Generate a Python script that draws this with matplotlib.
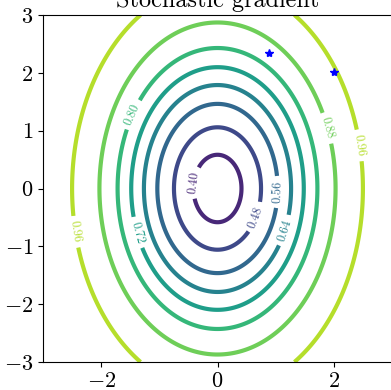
import numpy as np
import matplotlib
matplotlib.use("Agg")
import matplotlib.pyplot as plt

plt.rcParams["font.family"] = "cmr10"
plt.rcParams["mathtext.fontset"] = "cm"
plt.rcParams["axes.formatter.use_mathtext"] = True

# contour levels (labels) and the matching value of x^2 + y^2/2
level_values = [0.40, 0.48, 0.56, 0.64, 0.72, 0.80, 0.88, 0.96]
level_q = [0.17, 0.56, 1.07, 1.60, 2.20, 2.95, 4.12, 6.25]

# where the inline labels sit
label_pos = [(-0.40, 0.10), (0.69, -0.51), (1.03, -0.06), (1.14, -0.72),
             (-1.41, -0.77), (-1.53, 1.31), (1.91, 1.05), (2.47, 0.75), (-2.45, -0.75)]

# the stochastic gradient iterates
iter_x = [0.88, 2.0]
iter_y = [2.34, 2.02]

xs = np.linspace(-3, 3, 500)
ys = np.linspace(-3, 3, 500)
X, Y = np.meshgrid(xs, ys)
Q = X ** 2 + Y ** 2 / 2

cmap = plt.get_cmap("viridis")
colors = [cmap((v - 0.32) / 0.72) for v in level_values]

fig = plt.figure(figsize=(3.91, 3.90), dpi=100)
ax = fig.add_axes([43 / 391, 28 / 390, 349 / 391, 347 / 390])

cs = ax.contour(X, Y, Q, levels=level_q, colors=colors, linewidths=3)
fmt = {q: f"{v:.2f}" for q, v in zip(level_q, level_values)}
ax.clabel(cs, fmt=fmt, fontsize=9, inline=True, manual=label_pos)

ax.plot(iter_x, iter_y, "*", color="blue", markersize=6, zorder=5)

ax.set_xlim(-3, 3)
ax.set_ylim(-3, 3)
ax.set_xticks([-2, 0, 2])
ax.set_yticks([-3, -2, -1, 0, 1, 2, 3])
ax.tick_params(labelsize=16)
# the title is partly cut off at the top edge, as in the reference
ax.set_title("Stochastic gradient", fontsize=17.5)

fig.savefig("out.png", dpi=100)
